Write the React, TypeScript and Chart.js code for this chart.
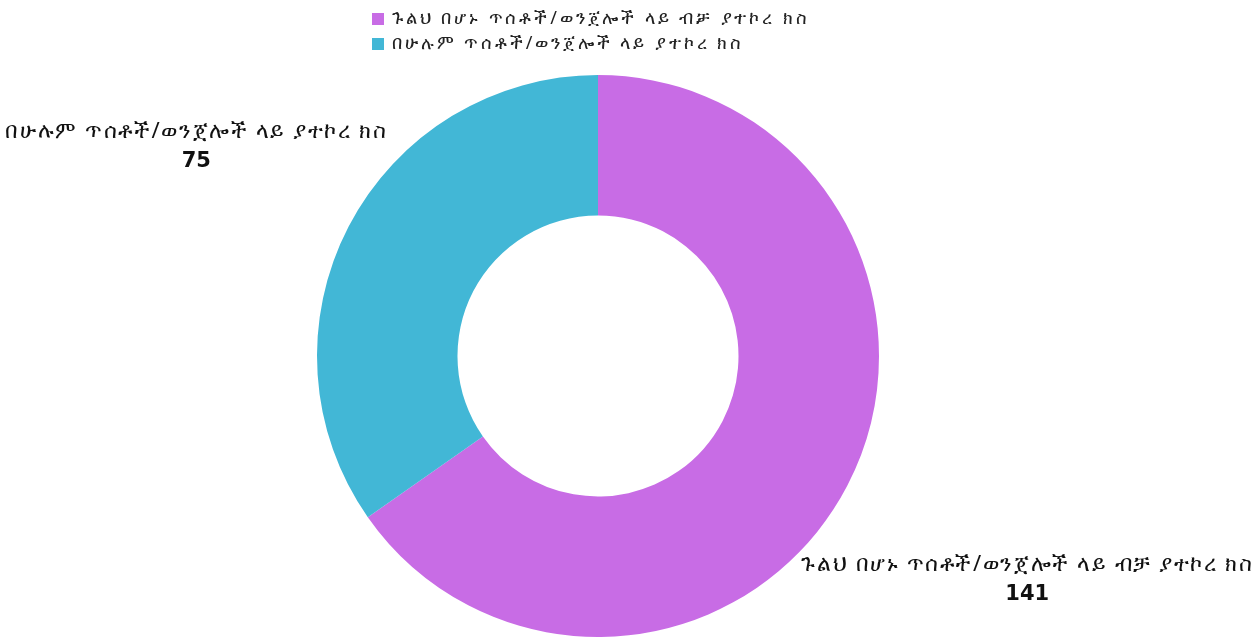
import React, { useEffect, useRef } from "react";
import { Chart, registerables } from "chart.js";

Chart.register(...registerables);

const categories: string[] = [
  "ጉልህ በሆኑ ጥሰቶች/ወንጀሎች ላይ ብቻ ያተኮረ ክስ",
  "በሁሉም ጥሰቶች/ወንጀሎች ላይ ያተኮረ ክስ",
];
const values: number[] = [141, 75];
const colors: string[] = ["#C86CE5", "#42B7D6"];

const FONT = "'Noto Sans', 'DejaVu Sans', sans-serif";
const NUM_FONT = "bold 21px 'DejaVu Sans', sans-serif";

const legendPlugin = {
  id: "customLegend",
  afterDraw(chart: any) {
    const ctx = chart.ctx;
    ctx.save();
    ctx.font = `18px ${FONT}`;
    (ctx as any).letterSpacing = "2.9px";
    ctx.textBaseline = "middle";
    ctx.textAlign = "left";
    categories.forEach((c, i) => {
      const y = 19 + i * 25;
      ctx.fillStyle = colors[i];
      ctx.fillRect(372, y - 6, 12, 12);
      ctx.fillStyle = "#222";
      ctx.fillText(c, 392, y);
    });
    ctx.restore();
  },
};

const labelPlugin = {
  id: "outerLabels",
  afterDatasetsDraw(chart: any) {
    const ctx = chart.ctx;
    const meta = chart.getDatasetMeta(0);
    ctx.save();
    ctx.textAlign = "center";
    ctx.textBaseline = "middle";
    meta.data.forEach((arc: any, i: number) => {
      const p = arc.getProps(["x", "y", "startAngle", "endAngle", "outerRadius"], true);
      const mid = (p.startAngle + p.endAngle) / 2;
      const dx = Math.cos(mid);
      const dy = Math.sin(mid);
      ctx.font = `22px ${FONT}`;
      (ctx as any).letterSpacing = "1.6px";
      const w1 = ctx.measureText(categories[i]).width;
      (ctx as any).letterSpacing = "0px";
      ctx.font = NUM_FONT;
      const w2 = ctx.measureText(String(values[i])).width;
      const w = Math.max(w1, w2);
      const h = 72;
      const d = p.outerRadius - 14 + Math.abs(dx) * w / 2 + Math.abs(dy) * h / 2;
      const cx = p.x + dx * d;
      const cy = p.y + dy * d;
      ctx.fillStyle = "#111";
      ctx.font = `22px ${FONT}`;
      (ctx as any).letterSpacing = "1.6px";
      ctx.fillText(categories[i], cx, cy - 15);
      (ctx as any).letterSpacing = "0px";
      ctx.font = NUM_FONT;
      ctx.fillText(String(values[i]), cx, cy + 15);
    });
    ctx.restore();
  },
};

export default function App() {
  const ref = useRef<HTMLCanvasElement | null>(null);
  useEffect(() => {
    if (!ref.current) return;
    const chart = new Chart(ref.current, {
      type: "doughnut",
      data: {
        labels: categories,
        datasets: [
          {
            data: values,
            backgroundColor: colors,
            borderWidth: 0,
          },
        ],
      },
      options: {
        animation: false,
        responsive: true,
        maintainAspectRatio: false,
        cutout: "50%",
        layout: { padding: { top: 75, bottom: 1, left: 0, right: 55 } },
        plugins: {
          legend: { display: false },
          tooltip: { enabled: false },
        },
      },
      plugins: [legendPlugin, labelPlugin],
    });
    return () => chart.destroy();
  }, []);
  return (
    <div style={{ position: "fixed", left: 0, top: 0, width: 1251, height: 638, background: "#fff" }}>
      <canvas ref={ref} />
    </div>
  );
}
